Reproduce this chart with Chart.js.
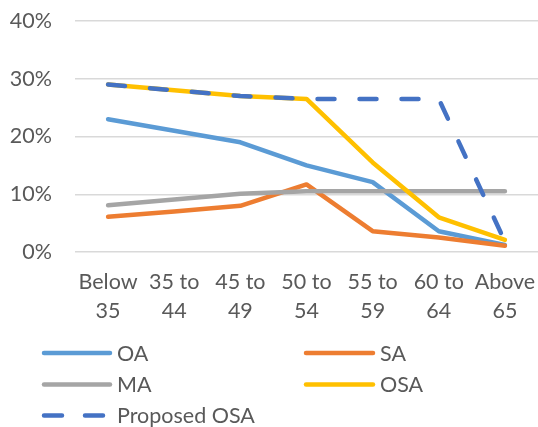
<!DOCTYPE html>
<html>
<head>
<meta charset="utf-8">
<script src="https://cdn.jsdelivr.net/npm/chart.js@4"></script>
<style>
  html, body { margin: 0; padding: 0; background: #fff; }
  #wrap { width: 538px; height: 427px; position: relative; }
</style>
</head>
<body>
<div id="wrap"><canvas id="c" width="538" height="427"></canvas></div>
<script>
const categories = [["Below", "35"], ["35 to", "44"], ["45 to", "49"], ["50 to", "54"], ["55 to", "59"], ["60 to", "64"], ["Above", "65"]];
const seriesNames = ["OA", "SA", "MA", "OSA", "Proposed OSA"];
const oaValues = [23, 21, 19, 15, 12.1, 3.6, 1.2];
const saValues = [6.1, 7, 8, 11.7, 3.6, 2.5, 1.1];
const maValues = [8.1, 9.1, 10.1, 10.5, 10.5, 10.5, 10.5];
const osaValues = [29, 28, 27, 26.5, 15.5, 6, 2.1];
const proposedOsaValues = [29, 28, 27, 26.5, 26.5, 26.5, 1.8];
const yTicks = [0, 10, 20, 30, 40];

const colors = ["#5B9BD5", "#ED7D31", "#A5A5A5", "#FFC000", "#4472C4"];
const allValues = [oaValues, saValues, maValues, osaValues, proposedOsaValues];
const FONT = "Lato, 'Open Sans', sans-serif";
const TEXT = "#595959";

const datasets = allValues.map((vals, i) => ({
  label: seriesNames[i],
  data: vals,
  borderColor: colors[i],
  backgroundColor: colors[i],
  borderWidth: 4.5,
  borderCapStyle: 'round',
  borderJoinStyle: 'round',
  borderDash: i === 4 ? [17, 25] : [],
  pointRadius: 0,
  pointHoverRadius: 0,
  tension: 0,
  fill: false,
  clip: 6,
  order: 5 - i
}));

const legendPlugin = {
  id: 'customLegend',
  afterDraw(chart) {
    const ctx = chart.ctx;
    const cols = [{ x0: 42, x1: 112, tx: 117 }, { x0: 304, x1: 375, tx: 380 }];
    const rows = [353, 384.5, 415.5];
    chart.data.datasets.forEach((ds, i) => {
      const col = cols[i % 2];
      const y = rows[Math.floor(i / 2)];
      ctx.save();
      ctx.strokeStyle = ds.borderColor;
      ctx.lineWidth = 4.5;
      ctx.lineCap = 'round';
      if (ds.borderDash && ds.borderDash.length) ctx.setLineDash([18, 23]);
      ctx.beginPath();
      ctx.moveTo(col.x0 + 2, y);
      ctx.lineTo(col.x1 - 2, y);
      ctx.stroke();
      ctx.setLineDash([]);
      ctx.fillStyle = TEXT;
      ctx.font = "21.5px " + FONT;
      ctx.textBaseline = 'middle';
      ctx.textAlign = 'left';
      ctx.fillText(ds.label, col.tx, y + 1);
      ctx.restore();
    });
  }
};

new Chart(document.getElementById('c'), {
  type: 'line',
  data: { labels: categories, datasets },
  options: {
    responsive: false,
    animation: false,
    devicePixelRatio: 1,
    layout: { padding: { top: 21, bottom: 100, left: 0, right: -5 } },
    plugins: { legend: { display: false }, tooltip: { enabled: false } },
    scales: {
      x: {
        type: 'category',
        offset: true,
        grid: { display: false, drawTicks: false },
        border: { display: false },
        ticks: {
          color: TEXT,
          font: { family: FONT, size: 21.5, lineHeight: 1.35 },
          padding: 16,
          maxRotation: 0,
          autoSkip: false
        },
        afterFit(s) { s.height = 75; s.paddingLeft = 0; s.paddingRight = 0; s.paddingTop = 0; s.paddingBottom = 0; }
      },
      y: {
        min: 0,
        max: 40,
        afterBuildTicks(scale) { scale.ticks = yTicks.map(v => ({ value: v })); },
        grid: { color: "#D9D9D9", lineWidth: 1.5, drawTicks: false },
        border: { display: false },
        ticks: {
          color: TEXT,
          font: { family: FONT, size: 21.5 },
          padding: 23,
          callback: v => v + "%"
        },
        afterFit(s) { s.width = 75; s.paddingTop = 0; s.paddingBottom = 0; s.paddingLeft = 0; s.paddingRight = 0; }
      }
    }
  },
  plugins: [legendPlugin]
});
</script>
</body>
</html>
